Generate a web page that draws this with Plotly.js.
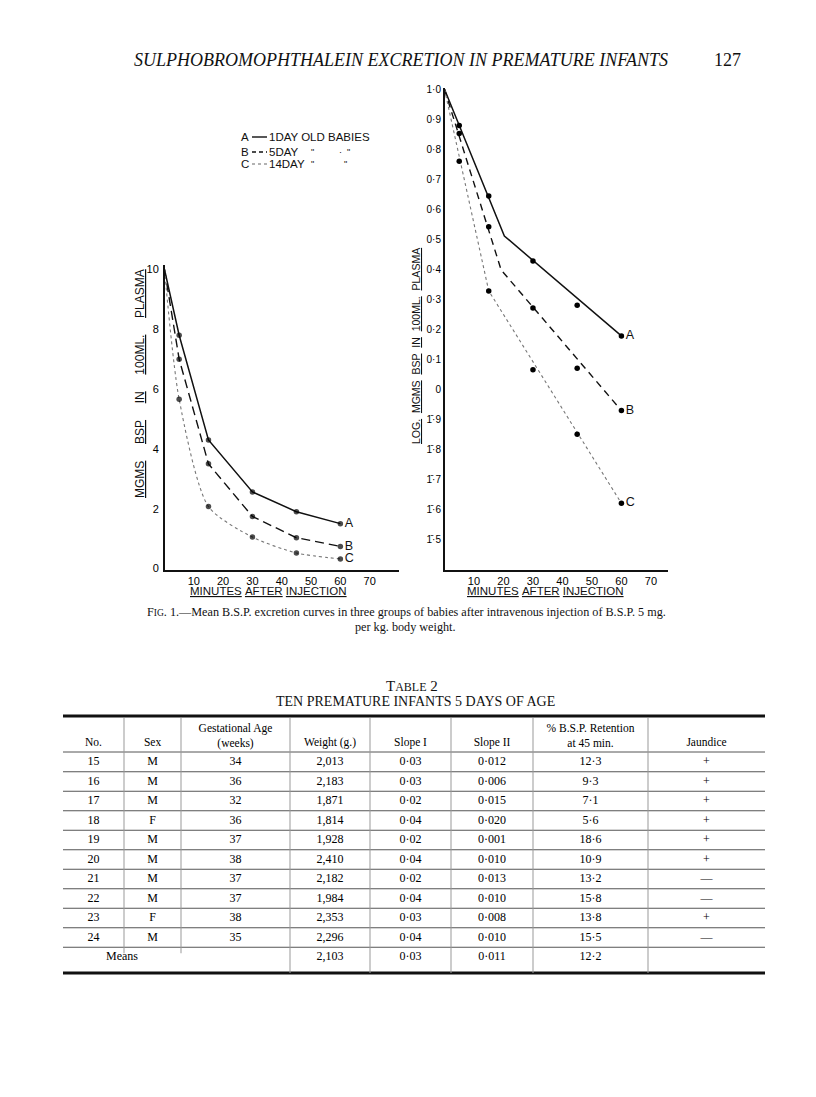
<!DOCTYPE html>
<html>
<head>
<meta charset="utf-8">
<script src="https://cdn.plot.ly/plotly-3.0.1.min.js"></script>
<style>
  html, body { margin: 0; padding: 0; background: #fff; }
  #page { width: 816px; height: 1097px; }
</style>
</head>
<body>
<div id="page"></div>
<script>
// ---------------- DATA ----------------
// Left chart: mg BSP in 100 ml plasma vs minutes
const minutes = [0, 5, 15, 30, 45, 60];
const mgA = [10, 7.8, 4.3, 2.56, 1.9, 1.5];
const mgB = [10, 7.0, 3.5, 1.74, 1.03, 0.74];
const mgC = [10, 5.66, 2.07, 1.05, 0.52, 0.32];
const mgTickVals = [0, 2, 4, 6, 8, 10];
const mgTickText = ['0', '2', '4', '6', '8', '10'];
const minuteTicks = [10, 20, 30, 40, 50, 60, 70];

// Right chart: log mg BSP (bar notation) vs minutes
const logMinutes = [5, 15, 30, 45, 60];
const logA = [0.879, 0.644, 0.428, 0.28, 0.178];
const logB = [0.853, 0.542, 0.271, 0.07, -0.071];
const logC = [0.76, 0.328, 0.065, -0.15, -0.38];
const fitAx = [0, 20.3, 60], fitAy = [1.0, 0.511, 0.178];
const fitBx = [0, 19.2, 60], fitBy = [1.0, 0.398, -0.071];
const fitCx = [0, 15, 60],   fitCy = [1.0, 0.328, -0.38];
const logTickVals = [1.0, 0.9, 0.8, 0.7, 0.6, 0.5, 0.4, 0.3, 0.2, 0.1, 0, -0.1, -0.2, -0.3, -0.4, -0.5];
const logTickText = ['1·0', '0·9', '0·8', '0·7', '0·6', '0·5', '0·4', '0·3', '0·2', '0·1', '0',
                     '1\u0304·9', '1\u0304·8', '1\u0304·7', '1\u0304·6', '1\u0304·5'];
const seriesLabels = ['A', 'B', 'C'];

// Table 2
const tableHeaders = ['No.', 'Sex', 'Gestational Age<br>(weeks)', 'Weight (g.)', 'Slope I', 'Slope II',
                      '% B.S.P. Retention<br>at 45 min.', 'Jaundice'];
const tableNo = ['15', '16', '17', '18', '19', '20', '21', '22', '23', '24'];
const tableSex = ['M', 'M', 'M', 'F', 'M', 'M', 'M', 'M', 'F', 'M'];
const tableGestAge = ['34', '36', '32', '36', '37', '38', '37', '37', '38', '35'];
const tableWeight = ['2,013', '2,183', '1,871', '1,814', '1,928', '2,410', '2,182', '1,984', '2,353', '2,296'];
const tableSlope1 = ['0·03', '0·03', '0·02', '0·04', '0·02', '0·04', '0·02', '0·04', '0·03', '0·04'];
const tableSlope2 = ['0·012', '0·006', '0·015', '0·020', '0·001', '0·010', '0·013', '0·010', '0·008', '0·010'];
const tableRetention = ['12·3', '9·3', '7·1', '5·6', '18·6', '10·9', '13·2', '15·8', '13·8', '15·5'];
const tableJaundice = ['+', '+', '+', '+', '+', '+', '—', '—', '+', '—'];
const meansLabel = 'Means';
const meansRow = ['', '', '', '2,103', '0·03', '0·011', '12·2', ''];

// ---------------- LAYOUT HELPERS ----------------
const W = 816, H = 1097;
const px = x => x / W;
const py = y => 1 - y / H;
const SANS = 'Liberation Sans, Arial, sans-serif';
const SERIF = 'Liberation Serif, Times New Roman, serif';
const INK = '#111';

// Table geometry (page pixels)
const colSeps = [63, 124, 181, 290, 370, 451, 533, 648, 765];
const colCenters = colSeps.slice(0, -1).map((s, i) => (s + colSeps[i + 1]) / 2);
const meansCenterX = (colSeps[0] + colSeps[2]) / 2;
const row0Y = 762, rowPitch = 19.5;          // row index -> page pixel
const tableTopY = 716, headBottomY = 752, tableBottomY = 973;
const yIdx = p => (p - row0Y) / rowPitch;

// ---------------- TRACES ----------------
const traces = [];
const lastText = (arr, lbl) => arr.map((v, i) => (i === arr.length - 1 ? lbl : ''));
const markerSizes = minutes.map(t => (t === 0 ? 0 : 5.5));

// left chart
[[mgA, 'solid', 1.5, '#111', undefined],
 [mgB, '9px,5px', 1.4, '#111', undefined],
 [mgC, 'dot', 1.1, '#777', 'spline']].forEach((d, k) => {
  traces.push({
    type: 'scatter', x: minutes, y: d[0], xaxis: 'x', yaxis: 'y',
    mode: 'lines+markers+text',
    line: { color: d[3], width: d[2], dash: d[1], shape: d[4] || 'linear', smoothing: 0.7 },
    marker: { color: '#000', size: markerSizes, line: { width: 0 } },
    text: lastText(d[0], seriesLabels[k]), textposition: 'middle right',
    textfont: { family: SANS, size: 12.5, color: INK },
    hoverinfo: 'skip', cliponaxis: false
  });
});

// right chart: fitted lines
[[fitAx, fitAy, 'solid', 1.5, '#111'],
 [fitBx, fitBy, '7px,5px', 1.4, '#111'],
 [fitCx, fitCy, 'dot', 1.1, '#777']].forEach(d => {
  traces.push({
    type: 'scatter', x: d[0], y: d[1], xaxis: 'x2', yaxis: 'y2', mode: 'lines',
    line: { color: d[4], width: d[3], dash: d[2] }, hoverinfo: 'skip', cliponaxis: false
  });
});
// right chart: observed points
[logA, logB, logC].forEach((arr, k) => {
  traces.push({
    type: 'scatter', x: logMinutes, y: arr, xaxis: 'x2', yaxis: 'y2',
    mode: 'markers+text', marker: { color: '#000', size: 5.5, line: { width: 0 } },
    text: lastText(arr, seriesLabels[k]), textposition: 'middle right',
    textfont: { family: SANS, size: 12.5, color: INK },
    hoverinfo: 'skip', cliponaxis: false
  });
});

// table cells
const tableCols = [tableNo, tableSex, tableGestAge, tableWeight, tableSlope1, tableSlope2, tableRetention, tableJaundice];
const cellX = [], cellY = [], cellT = [];
tableCols.forEach((col, j) => col.forEach((v, i) => { cellX.push(colCenters[j]); cellY.push(i); cellT.push(v); }));
meansRow.forEach((v, j) => { if (v) { cellX.push(colCenters[j]); cellY.push(tableNo.length); cellT.push(v); } });
cellX.push(meansCenterX); cellY.push(tableNo.length); cellT.push(meansLabel);
traces.push({
  type: 'scatter', x: cellX, y: cellY, text: cellT, mode: 'text', xaxis: 'x3', yaxis: 'y3',
  textposition: 'middle center', textfont: { family: SERIF, size: 12, color: '#000' },
  hoverinfo: 'skip', cliponaxis: false
});
// table headers
traces.push({
  type: 'scatter', x: colCenters, y: tableHeaders.map(h => (h.indexOf('<br>') >= 0 ? yIdx(737) : yIdx(743))),
  text: tableHeaders, mode: 'text', xaxis: 'x3', yaxis: 'y3',
  textposition: 'middle center', textfont: { family: SERIF, size: 11.5, color: '#000' },
  hoverinfo: 'skip', cliponaxis: false
});

// ---------------- SHAPES ----------------
const shapes = [];
// table rules
const hline = (y, w, c) => shapes.push({ type: 'line', xref: 'paper', yref: 'paper',
  x0: px(colSeps[0]), x1: px(colSeps[colSeps.length - 1]), y0: py(y), y1: py(y),
  line: { color: c, width: w } });
hline(tableTopY, 3, '#111');
hline(tableBottomY, 3, '#111');
hline(headBottomY, 1, '#555');
for (let i = 1; i <= tableNo.length; i++) hline(row0Y - rowPitch / 2 + rowPitch * i, 1, '#555');
colSeps.slice(1, -1).forEach((x, k) => {
  const yEnd = k < 2 ? row0Y + rowPitch * (tableNo.length - 0.5) + 6 : tableBottomY;
  shapes.push({ type: 'line', xref: 'paper', yref: 'paper', x0: px(x), x1: px(x),
    y0: py(tableTopY + 2), y1: py(yEnd), line: { color: '#999', width: 1 } });
});
// legend line samples
[[137, 'solid', 1.4, '#111'], [152, '4px,3px', 1.4, '#111'], [164, 'dot', 1.1, '#666']].forEach(d => {
  shapes.push({ type: 'line', xref: 'paper', yref: 'paper', x0: px(252), x1: px(267),
    y0: py(d[0]), y1: py(d[0]), line: { color: d[3], width: d[2], dash: d[1] } });
});

// ---------------- ANNOTATIONS ----------------
const ann = (x, y, text, size, family, extra) => Object.assign({
  xref: 'paper', yref: 'paper', x: px(x), y: py(y), text: text, showarrow: false,
  xanchor: 'center', yanchor: 'middle', font: { family: family || SANS, size: size, color: INK }
}, extra || {});
const NB = '\u00A0';
const u = (s, gap) => s.split(' ').map(w => '<u>' + w + '</u>').join(NB.repeat(gap || 1));
const annotations = [
  ann(400.5, 60, '<i>SULPHOBROMOPHTHALEIN EXCRETION IN PREMATURE INFANTS</i>', 18, SERIF),
  ann(727, 60, '127', 18, SERIF),
  // legend
  ann(251, 137, 'A', 11.5, SANS, { xanchor: 'right' }),
  ann(267, 137, '1DAY OLD' + NB + 'BABIES', 11.5, SANS, { xanchor: 'left' }),
  ann(251, 152, 'B', 11.5, SANS, { xanchor: 'right' }),
  ann(267, 152, '5DAY', 11.5, SANS, { xanchor: 'left' }),
  ann(312, 152, '"', 9, SANS), ann(344, 152, '·' + NB + NB + '"', 9, SANS),
  ann(251, 164, 'C', 11.5, SANS, { xanchor: 'right' }),
  ann(267, 164, '14DAY', 11.5, SANS, { xanchor: 'left' }),
  ann(312, 164, '"', 9, SANS), ann(345, 164, '"', 9, SANS),
  // axis titles
  ann(140, 384, u('MGMS BSP IN 100ML. PLASMA', 5), 12, SANS, { textangle: -90 }),
  ann(416, 346, u('LOG. MGMS BSP IN 100ML. PLASMA', 2), 10.5, SANS, { textangle: -90 }),
  ann(268, 591, u('MINUTES AFTER INJECTION', 1), 11.5, SANS),
  ann(545, 591, u('MINUTES AFTER INJECTION', 1), 11.5, SANS),
  // caption
  ann(406, 612, 'F<span style="font-size:9.5px">IG</span>. 1.—Mean B.S.P. excretion curves in three groups of babies after intravenous injection of B.S.P. 5 mg.', 12.2, SERIF),
  ann(405, 627, 'per kg. body weight.', 12.2, SERIF),
  // table titles
  ann(412, 686, 'T<span style="font-size:12px">ABLE</span> 2', 15, SERIF),
  ann(415, 701, 'TEN PREMATURE INFANTS 5 DAYS OF AGE', 14, SERIF)
];

// ---------------- AXES ----------------
const tickFont = { family: SANS, size: 11, color: '#000' };
const baseAxis = {
  showline: true, linecolor: '#111', linewidth: 1.5, showgrid: false, zeroline: false,
  ticks: '', tickfont: tickFont, fixedrange: true
};
const layout = {
  width: W, height: H, margin: { l: 0, r: 0, t: 0, b: 0 },
  paper_bgcolor: '#fff', plot_bgcolor: 'rgba(0,0,0,0)', showlegend: false,
  xaxis: Object.assign({}, baseAxis, { domain: [px(164.5), px(399)], range: [0, 80], anchor: 'y',
    tickmode: 'array', tickvals: minuteTicks, ticktext: minuteTicks.map(String) }),
  yaxis: Object.assign({}, baseAxis, { domain: [py(570), py(265)], range: [-0.05, 10.15], anchor: 'x',
    tickmode: 'array', tickvals: mgTickVals, ticktext: mgTickText, ticklabelstandoff: 2 }),
  xaxis2: Object.assign({}, baseAxis, { domain: [px(444.5), px(668)], range: [0, 75.8], anchor: 'y2',
    tickmode: 'array', tickvals: minuteTicks, ticktext: minuteTicks.map(String) }),
  yaxis2: Object.assign({}, baseAxis, { domain: [py(570), py(88)], range: [-0.6023, 1.0043], anchor: 'x2',
    tickmode: 'array', tickvals: logTickVals, ticktext: logTickText, tickfont: { family: SANS, size: 10, color: '#000' } }),
  xaxis3: { domain: [0, 1], range: [0, W], visible: false, anchor: 'y3', fixedrange: true },
  yaxis3: { domain: [0, 1], range: [yIdx(H), yIdx(0)], visible: false, anchor: 'x3', fixedrange: true },
  shapes: shapes, annotations: annotations
};

Plotly.newPlot('page', traces, layout, { staticPlot: true, displayModeBar: false });
</script>
</body>
</html>
